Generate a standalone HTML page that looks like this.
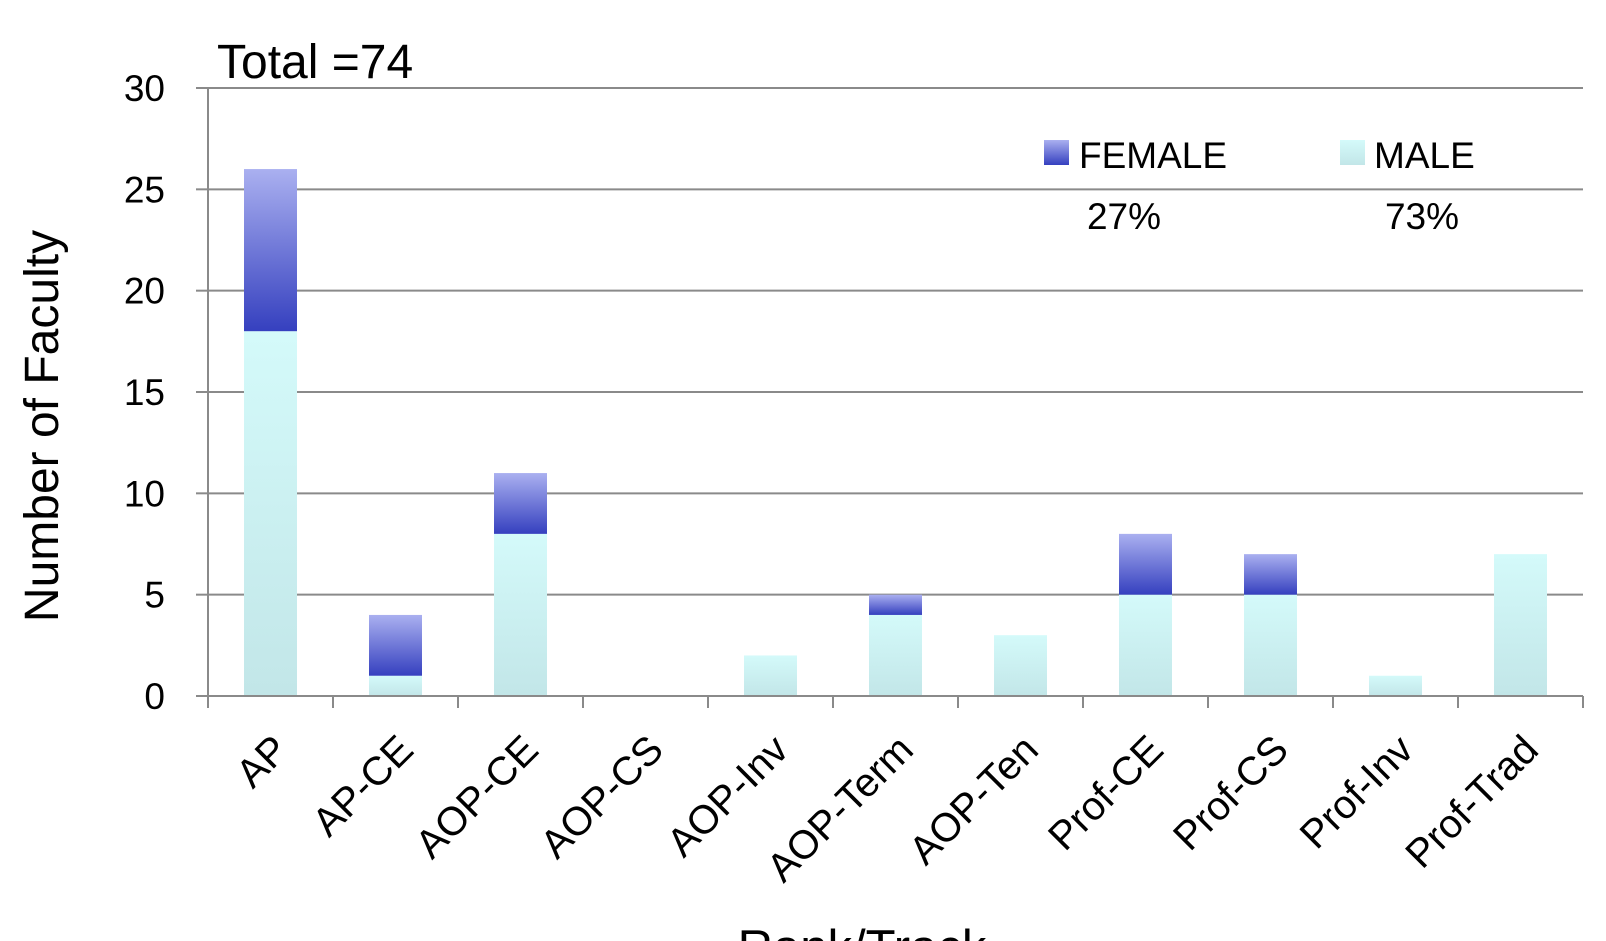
<!DOCTYPE html>
<html><head><meta charset="utf-8"><style>
html,body{margin:0;padding:0;background:#fff;}
svg{display:block;font-family:"Liberation Sans",sans-serif;}
</style></head><body>
<svg id="chart" width="1606" height="941">
<defs>
<linearGradient id="gm" x1="0" y1="0" x2="0" y2="1"><stop offset="0" stop-color="#d4fafa"/><stop offset="1" stop-color="#c2e6e8"/></linearGradient>
<linearGradient id="gf" x1="0" y1="0" x2="0" y2="1"><stop offset="0" stop-color="#aab0f0"/><stop offset="1" stop-color="#3540bf"/></linearGradient>
</defs>
<g id="grid"></g><g id="bars"></g><g id="axes"></g>
<text x="217" y="78" font-size="48" fill="#000">Total =74</text>
<text transform="translate(58,426) rotate(-90)" text-anchor="middle" font-size="48" fill="#000">Number of Faculty</text>
<text x="862" y="964" text-anchor="middle" font-size="49" fill="#000">Rank/Track</text>
<g>
<rect x="1044" y="140" width="25" height="25" fill="url(#gf)"/>
<text x="1079" y="168" font-size="37">FEMALE</text>
<text x="1124" y="229" text-anchor="middle" font-size="37">27%</text>
<rect x="1340" y="140" width="25" height="25" fill="url(#gm)"/>
<text x="1374" y="168" font-size="37">MALE</text>
<text x="1422" y="229" text-anchor="middle" font-size="37">73%</text>
</g>
</svg>
<script>
const categories=["AP","AP-CE","AOP-CE","AOP-CS","AOP-Inv","AOP-Term","AOP-Ten","Prof-CE","Prof-CS","Prof-Inv","Prof-Trad"];
const male=[18,1,8,0,2,4,3,5,5,1,7];
const female=[8,3,3,0,0,1,0,3,2,0,0];
const yTicks=[0,5,10,15,20,25,30];
const NS="http://www.w3.org/2000/svg";
const X0=208,X1=1583,Y0=696,Y1=88,YMAX=30;
const band=(X1-X0)/categories.length;
function y(v){return Y0-(v/YMAX)*(Y0-Y1);}
function xc(i){return X0+band*(i+0.5);}
function mk(tag,attrs,parent){const e=document.createElementNS(NS,tag);for(const k in attrs)e.setAttribute(k,attrs[k]);parent.appendChild(e);return e;}
const grid=document.getElementById('grid'),bars=document.getElementById('bars'),axes=document.getElementById('axes');
yTicks.forEach(t=>{
 if(t>0){const l=mk('line',{x1:X0,x2:X1,y1:y(t),y2:y(t),stroke:'#8a8a8a','stroke-width':2},grid);
 
 }
 mk('line',{x1:X0-12,x2:X0,y1:y(t),y2:y(t),stroke:'#8a8a8a','stroke-width':2},axes);
 const tx=mk('text',{x:165,y:y(t)+13,'text-anchor':'end','font-size':37},axes);tx.textContent=t;
 
 
});
mk('line',{x1:X0,x2:X0,y1:Y1,y2:Y0,stroke:'#8a8a8a','stroke-width':2},axes);
mk('line',{x1:X0,x2:X1,y1:Y0,y2:Y0,stroke:'#8a8a8a','stroke-width':2},axes);
for(let i=0;i<=categories.length;i++){mk('line',{x1:X0+band*i,x2:X0+band*i,y1:Y0,y2:Y0+12,stroke:'#8a8a8a','stroke-width':2},axes);}
const bw=53;
categories.forEach((c,i)=>{
 const x=xc(i)-bw/2;
 if(male[i]>0){const r=mk('rect',{x:x,y:y(male[i]),width:bw,height:y(0)-y(male[i]),fill:'url(#gm)'},bars);
 
 }
 if(female[i]>0){const t=male[i]+female[i];const r=mk('rect',{x:x,y:y(t),width:bw,height:y(male[i])-y(t),fill:'url(#gf)'},bars);
 
 }
 const lx=xc(i)+20,ly=Y0+56;
 const tx=mk('text',{x:lx,y:ly,'text-anchor':'end','font-size':40,transform:`rotate(-45 ${lx} ${ly})`},axes);tx.textContent=c;
 
 
});
</script>
</body></html>
